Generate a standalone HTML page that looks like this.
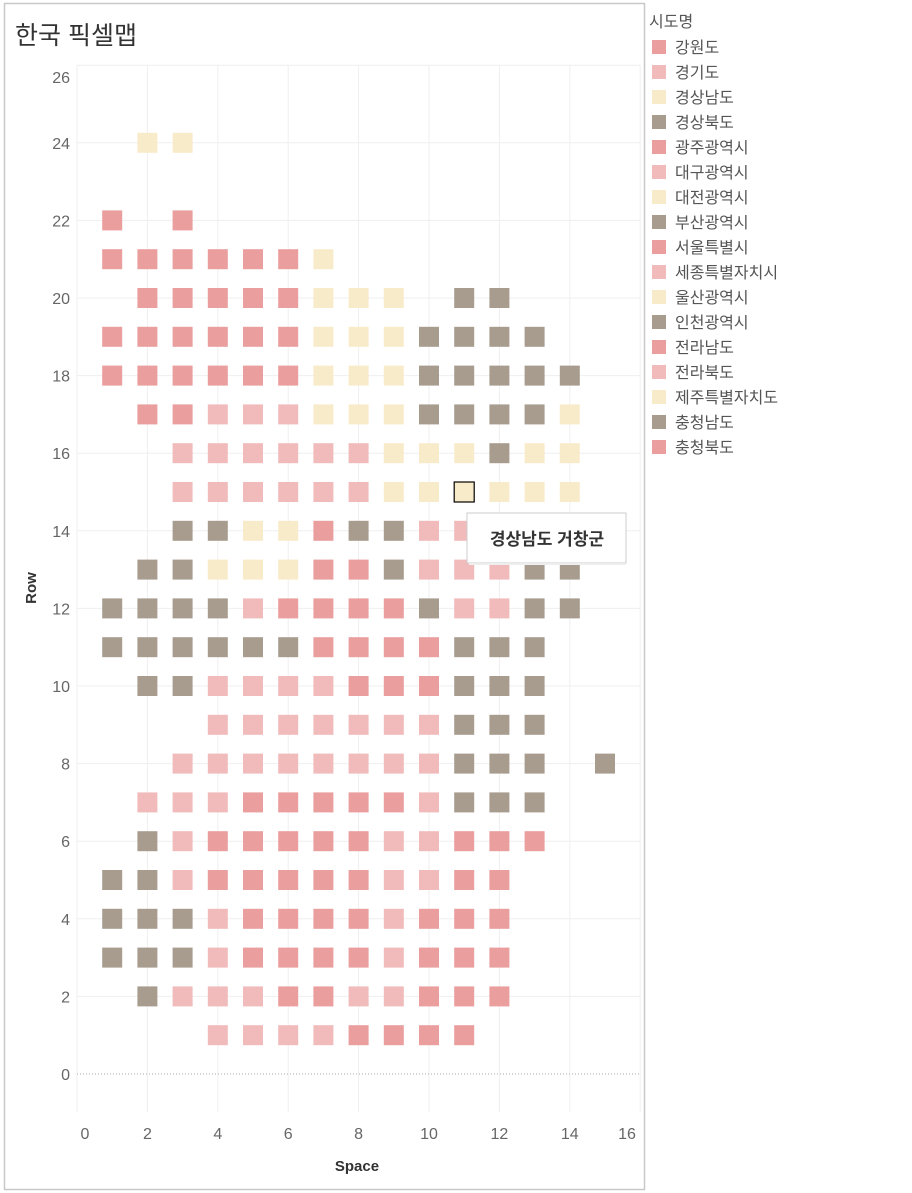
<!DOCTYPE html>
<html><head><meta charset="utf-8"><style>
body{margin:0;background:#fff;width:912px;height:1193px;overflow:hidden;font-family:"Liberation Sans","Noto Sans CJK KR",sans-serif}
</style></head><body>
<svg id="s" width="912" height="1193" xmlns="http://www.w3.org/2000/svg" style="position:absolute;left:0;top:0">
<rect x="4.5" y="3.5" width="640" height="1186" fill="none" stroke="#c8c8c8" stroke-width="1.5"/>
<text x="15" y="44" font-size="25" fill="#333" font-family="Liberation Sans,Noto Sans CJK KR,sans-serif">한국 픽셀맵</text>
<g id="grid"></g>
<line x1="77" y1="1074" x2="640" y2="1074" stroke="#aaa" stroke-dasharray="1,2"/>
<g id="cells"></g>
<g id="ax" font-size="16" fill="#666"></g>
<text x="357" y="1171" font-size="15" font-weight="bold" fill="#333" text-anchor="middle">Space</text>
<text transform="translate(36,588) rotate(-90)" font-size="15" font-weight="bold" fill="#333" text-anchor="middle">Row</text>
<g id="leg" font-size="16" fill="#555"></g>
<rect x="467" y="513" width="159" height="50" fill="#fff" stroke="#ccc"/>
<rect x="469" y="563" width="157" height="2" fill="#eee"/>
<text x="547" y="545" font-size="17" font-weight="bold" fill="#333" text-anchor="middle">경상남도 거창군</text>
</svg>
<script>
var C={R:"#ea9e9e",P:"#f1bbbb",Y:"#f8ebc9",G:"#a89c8f"};
var ns="http://www.w3.org/2000/svg";
function el(t,a,p,txt){var e=document.createElementNS(ns,t);for(var k in a)e.setAttribute(k,a[k]);if(txt!=null)e.textContent=txt;document.getElementById(p).appendChild(e);return e;}
function X(v){return 77+35.2*v} function Y(v){return 1074-38.8*v}
for(var i=0;i<=16;i+=2){el("line",{x1:X(i),y1:65,x2:X(i),y2:1112,stroke:"#efefef"},"grid");el("text",{x:i==0?85:(i==16?627:X(i)),y:1139,"text-anchor":"middle"},"ax",i);}
for(var j=2;j<=26;j+=2){el("line",{x1:77,y1:Y(j),x2:640,y2:Y(j),stroke:"#efefef"},"grid");}
for(var j=0;j<=26;j+=2){el("text",{x:70,y:(j==26?77:Y(j))+6,"text-anchor":"end"},"ax",j);}
var rows={
24:{2:"Y",3:"Y"},22:{1:"R",3:"R"},
21:"1R2R3R4R5R6R7Y",20:"2R3R4R5R6R7Y8Y9Y11G12G",19:"1R2R3R4R5R6R7Y8Y9Y10G11G12G13G",
18:"1R2R3R4R5R6R7Y8Y9Y10G11G12G13G14G",17:"2R3R4P5P6P7Y8Y9Y10G11G12G13G14Y",
16:"3P4P5P6P7P8P9Y10Y11Y12G13Y14Y",15:"3P4P5P6P7P8P9Y10Y11Y12Y13Y14Y",
14:"3G4G5Y6Y7R8G9G10P11P",13:"2G3G4Y5Y6Y7R8R9G10P11P12P13G14G",
12:"1G2G3G4G5P6R7R8R9R10G11P12P13G14G",11:"1G2G3G4G5G6G7R8R9R10R11G12G13G",
10:"2G3G4P5P6P7P8R9R10R11G12G13G",9:"4P5P6P7P8P9P10P11G12G13G",
8:"3P4P5P6P7P8P9P10P11G12G13G15G",7:"2P3P4P5R6R7R8R9R10P11G12G13G",
6:"2G3P4R5R6R7R8R9P10P11R12R13R",5:"1G2G3P4R5R6R7R8R9P10P11R12R",
4:"1G2G3G4P5R6R7R8R9P10R11R12R",3:"1G2G3G4P5R6R7R8R9P10R11R12R",
2:"2G3P4P5P6R7R8P9P10R11R12R",1:"4P5P6P7P8R9R10R11R"};
for(var r in rows){var d=rows[r];if(typeof d=="string"){var m,re=/(\d+)([RPYG])/g,o={};while(m=re.exec(d))o[m[1]]=m[2];d=o;}
for(var x in d){var a={x:X(+x)-10,y:Y(+r)-10,width:20,height:20,fill:C[d[x]]};if(r==15&&x==11){a.stroke="#000";a["stroke-width"]=1.2;}el("rect",a,"cells");}}
el("text",{x:649,y:27,fill:"#555"},"leg","시도명");
var L=[["강원도","R"],["경기도","P"],["경상남도","Y"],["경상북도","G"],["광주광역시","R"],["대구광역시","P"],["대전광역시","Y"],["부산광역시","G"],["서울특별시","R"],["세종특별자치시","P"],["울산광역시","Y"],["인천광역시","G"],["전라남도","R"],["전라북도","P"],["제주특별자치도","Y"],["충청남도","G"],["충청북도","R"]];
L.forEach(function(l,i){var y=47+25*i;el("rect",{x:652,y:y-7,width:14,height:14,fill:C[l[1]]},"leg");el("text",{x:675,y:y+6},"leg",l[0]);});
</script>
</body></html>
